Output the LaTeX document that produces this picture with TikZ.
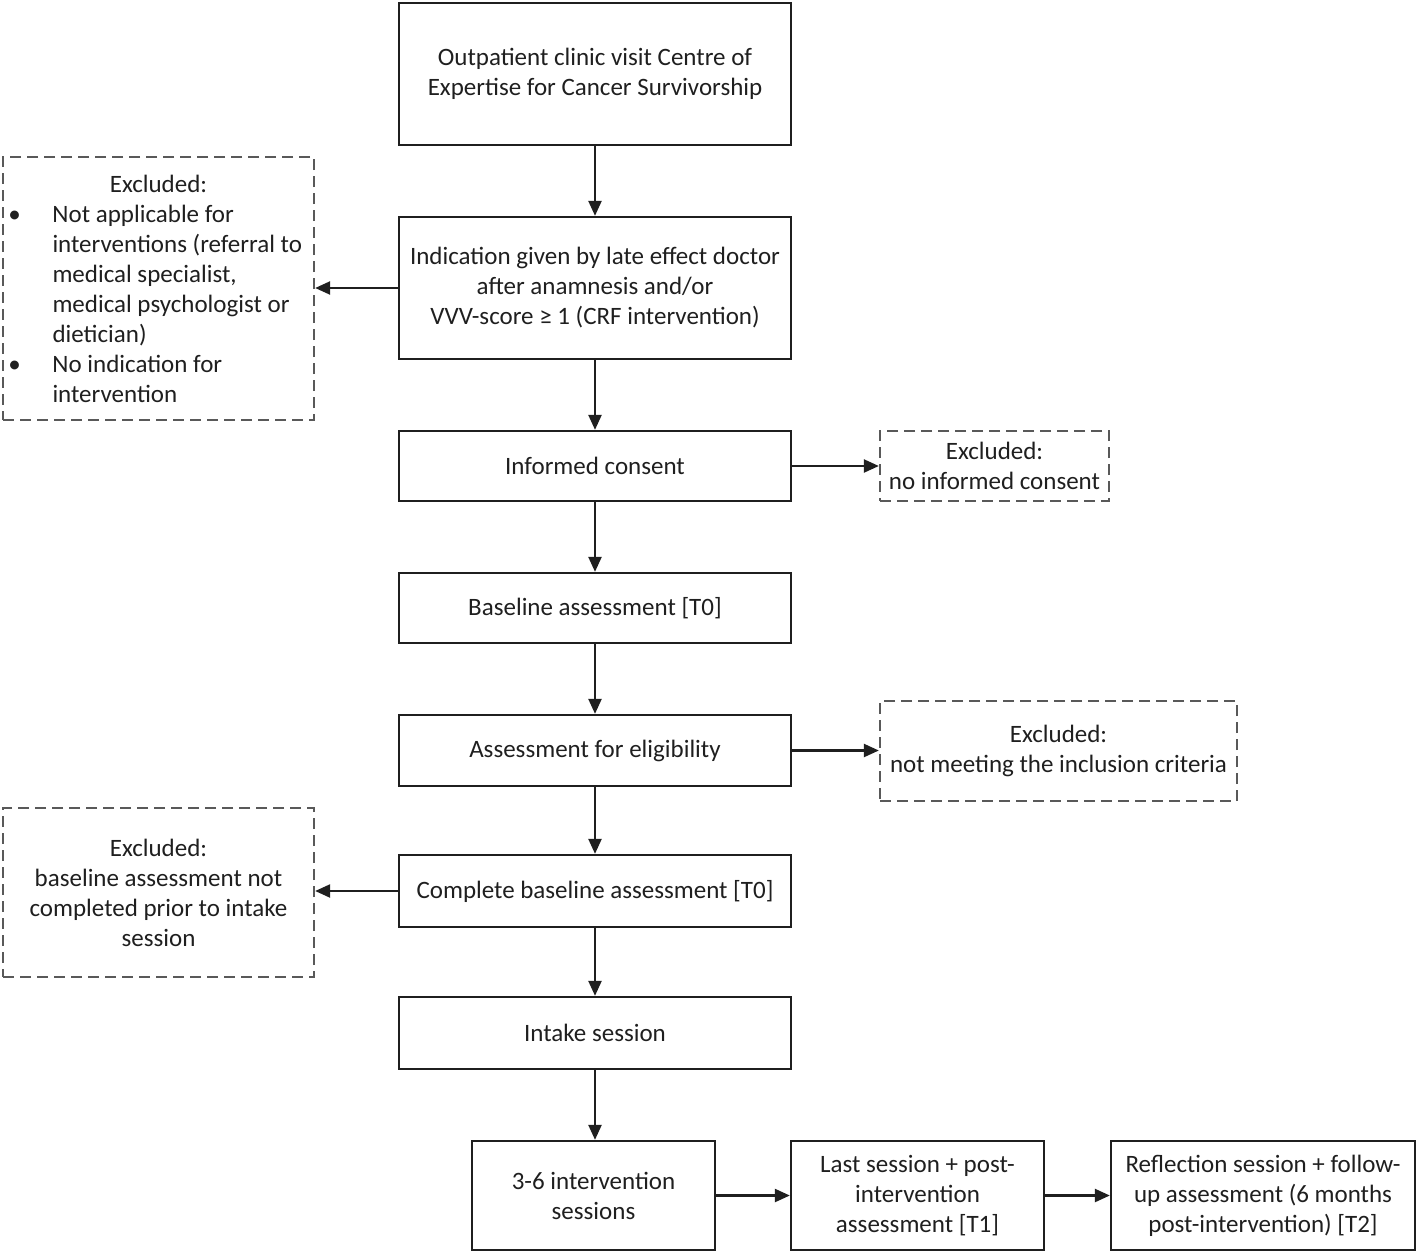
\documentclass[tikz,border=0pt]{standalone}
\usepackage{fontspec}
\setmainfont{Carlito}
\usetikzlibrary{arrows.meta}
\begin{document}
\begin{tikzpicture}[x=1pt,y=-1pt,
  txt/.style={font=\fontsize{25}{30}\selectfont, text=black!88},
  box/.style={txt, draw=black!88, line width=2.3pt, align=center, inner sep=0pt},
  excl/.style={txt, draw=black!65, line width=2.3pt, dash pattern=on 11pt off 6pt, align=center, inner sep=0pt},
  arr/.style={-{Triangle[length=15pt,width=13pt]}, line width=2.3pt, draw=black!88}]
\useasboundingbox (0,0) rectangle (1418,1255);

\node[box, minimum width=392pt, minimum height=142pt] (b1) at (595,74)
  {Outpatient clinic visit Centre of\\Expertise for Cancer Survivorship};
\node[box, minimum width=392pt, minimum height=142pt] (b2) at (595,288)
  {Indication given by late effect doctor\\after anamnesis and/or\\VVV-score ≥ 1 (CRF intervention)};
\node[box, minimum width=392pt, minimum height=70pt] (b3) at (595,466) {Informed consent};
\node[box, minimum width=392pt, minimum height=70pt] (b4) at (595,608) {Baseline assessment [T0]};
\node[box, minimum width=392pt, minimum height=71pt] (b5) at (595,750.5) {Assessment for eligibility};
\node[box, minimum width=392pt, minimum height=72pt] (b6) at (595,891) {Complete baseline assessment [T0]};
\node[box, minimum width=392pt, minimum height=72pt] (b7) at (595,1033) {Intake session};
\node[box, minimum width=243pt, minimum height=109pt] (b8) at (593.5,1195.5) {3-6 intervention\\sessions};
\node[box, minimum width=253pt, minimum height=109pt] (b9) at (917.5,1195.5) {Last session + post-\\intervention\\assessment [T1]};
\node[box, minimum width=304pt, minimum height=109pt] (b10) at (1263,1195.5) {Reflection session + follow-\\up assessment (6 months\\post-intervention) [T2]};

\node[excl, minimum width=311pt, minimum height=263pt, align=left] (x1) at (158.5,288.5)
  {\makebox[300pt]{Excluded:}\\
   \makebox[44pt][l]{\hspace{0pt}\textbullet}Not applicable for\\
   \hspace*{44pt}interventions (referral to\\
   \hspace*{44pt}medical specialist,\\
   \hspace*{44pt}medical psychologist or\\
   \hspace*{44pt}dietician)\\
   \makebox[44pt][l]{\hspace{0pt}\textbullet}No indication for\\
   \hspace*{44pt}intervention};
\node[excl, minimum width=229pt, minimum height=70pt] (x2) at (994.5,466) {Excluded:\\no informed consent};
\node[excl, minimum width=357pt, minimum height=100pt] (x3) at (1058.5,751) {Excluded:\\not meeting the inclusion criteria};
\node[excl, minimum width=311pt, minimum height=169pt] (x4) at (158.5,892.5)
  {Excluded:\\baseline assessment not\\completed prior to intake\\session};

\draw[arr] (b1) -- (b2);
\draw[arr] (b2) -- (b3);
\draw[arr] (b3) -- (b4);
\draw[arr] (b4) -- (b5);
\draw[arr] (b5) -- (b6);
\draw[arr] (b6) -- (b7);
\draw[arr] (b7.south) -- (b7.south |- b8.north);
\draw[arr] (b8) -- (b9);
\draw[arr] (b9) -- (b10);
\draw[arr] (b2.west) -- (b2.west -| x1.east);
\draw[arr] (b3.east) -- (b3.east -| x2.west);
\draw[arr] (b5.east) -- (b5.east -| x3.west);
\draw[arr] (b6.west) -- (b6.west -| x4.east);
\end{tikzpicture}
\end{document}
